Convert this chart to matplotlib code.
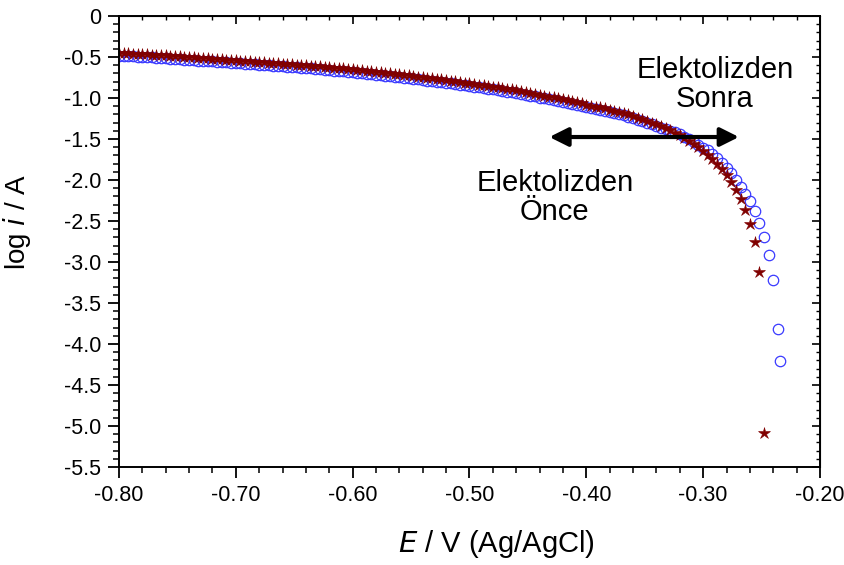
import matplotlib
matplotlib.use("Agg")
import matplotlib.pyplot as plt
from matplotlib.ticker import MultipleLocator, FuncFormatter

plt.rcParams['font.family'] = ['Liberation Sans', 'DejaVu Sans']

# potential (V vs Ag/AgCl)
E_sonra = [
    -0.800, -0.796, -0.792, -0.788, -0.784, -0.780, -0.776, -0.772, -0.768, -0.764,
    -0.760, -0.756, -0.752, -0.748, -0.744, -0.740, -0.736, -0.732, -0.728, -0.724,
    -0.720, -0.716, -0.712, -0.708, -0.704, -0.700, -0.696, -0.692, -0.688, -0.684,
    -0.680, -0.676, -0.672, -0.668, -0.664, -0.660, -0.656, -0.652, -0.648, -0.644,
    -0.640, -0.636, -0.632, -0.628, -0.624, -0.620, -0.616, -0.612, -0.608, -0.604,
    -0.600, -0.596, -0.592, -0.588, -0.584, -0.580, -0.576, -0.572, -0.568, -0.564,
    -0.560, -0.556, -0.552, -0.548, -0.544, -0.540, -0.536, -0.532, -0.528, -0.524,
    -0.520, -0.516, -0.512, -0.508, -0.504, -0.500, -0.496, -0.492, -0.488, -0.484,
    -0.480, -0.476, -0.472, -0.468, -0.464, -0.460, -0.456, -0.452, -0.448, -0.444,
    -0.440, -0.436, -0.432, -0.428, -0.424, -0.420, -0.416, -0.412, -0.408, -0.404,
    -0.400, -0.396, -0.392, -0.388, -0.384, -0.380, -0.376, -0.372, -0.368, -0.364,
    -0.360, -0.356, -0.352, -0.348, -0.344, -0.340, -0.336, -0.332, -0.328, -0.324,
    -0.320, -0.316, -0.312, -0.308, -0.304, -0.300, -0.296, -0.292, -0.288, -0.284,
    -0.280, -0.276, -0.272, -0.268, -0.264, -0.260, -0.256, -0.252, -0.248,
]
logi_sonra = [
    -0.450, -0.453, -0.456, -0.459, -0.462, -0.465, -0.468, -0.471, -0.474, -0.477,
    -0.480, -0.484, -0.488, -0.492, -0.496, -0.500, -0.504, -0.508, -0.512, -0.516,
    -0.520, -0.524, -0.528, -0.532, -0.536, -0.540, -0.544, -0.548, -0.552, -0.556,
    -0.560, -0.564, -0.568, -0.572, -0.576, -0.580, -0.584, -0.588, -0.592, -0.596,
    -0.600, -0.605, -0.610, -0.615, -0.620, -0.625, -0.630, -0.635, -0.640, -0.645,
    -0.650, -0.656, -0.662, -0.668, -0.674, -0.680, -0.686, -0.692, -0.698, -0.704,
    -0.710, -0.717, -0.724, -0.731, -0.738, -0.745, -0.752, -0.759, -0.766, -0.773,
    -0.780, -0.788, -0.796, -0.804, -0.812, -0.820, -0.828, -0.836, -0.844, -0.852,
    -0.860, -0.869, -0.878, -0.887, -0.896, -0.906, -0.916, -0.926, -0.936, -0.946,
    -0.960, -0.971, -0.982, -0.993, -1.004, -1.016, -1.028, -1.040, -1.052, -1.066,
    -1.080, -1.092, -1.104, -1.116, -1.128, -1.141, -1.154, -1.167, -1.180, -1.195,
    -1.220, -1.240, -1.260, -1.280, -1.300, -1.320, -1.345, -1.370, -1.395, -1.425,
    -1.455, -1.490, -1.525, -1.560, -1.600, -1.645, -1.690, -1.740, -1.800, -1.870,
    -1.940, -2.020, -2.120, -2.230, -2.370, -2.540, -2.760, -3.120, -5.080,
]

E_once = [
    -0.800, -0.796, -0.792, -0.788, -0.784, -0.780, -0.776, -0.772, -0.768, -0.764,
    -0.760, -0.756, -0.752, -0.748, -0.744, -0.740, -0.736, -0.732, -0.728, -0.724,
    -0.720, -0.716, -0.712, -0.708, -0.704, -0.700, -0.696, -0.692, -0.688, -0.684,
    -0.680, -0.676, -0.672, -0.668, -0.664, -0.660, -0.656, -0.652, -0.648, -0.644,
    -0.640, -0.636, -0.632, -0.628, -0.624, -0.620, -0.616, -0.612, -0.608, -0.604,
    -0.600, -0.596, -0.592, -0.588, -0.584, -0.580, -0.576, -0.572, -0.568, -0.564,
    -0.560, -0.556, -0.552, -0.548, -0.544, -0.540, -0.536, -0.532, -0.528, -0.524,
    -0.520, -0.516, -0.512, -0.508, -0.504, -0.500, -0.496, -0.492, -0.488, -0.484,
    -0.480, -0.476, -0.472, -0.468, -0.464, -0.460, -0.456, -0.452, -0.448, -0.444,
    -0.440, -0.436, -0.432, -0.428, -0.424, -0.420, -0.416, -0.412, -0.408, -0.404,
    -0.400, -0.396, -0.392, -0.388, -0.384, -0.380, -0.376, -0.372, -0.368, -0.364,
    -0.360, -0.356, -0.352, -0.348, -0.344, -0.340, -0.336, -0.332, -0.328, -0.324,
    -0.320, -0.316, -0.312, -0.308, -0.304, -0.300, -0.296, -0.292, -0.288, -0.284,
    -0.280, -0.276, -0.272, -0.268, -0.264, -0.260, -0.256, -0.252, -0.248, -0.244,
    -0.240, -0.236, -0.2345,
]
logi_once = [
    -0.485, -0.488, -0.491, -0.494, -0.497, -0.500, -0.503, -0.506, -0.509, -0.512,
    -0.515, -0.519, -0.523, -0.527, -0.531, -0.535, -0.539, -0.543, -0.547, -0.551,
    -0.555, -0.559, -0.563, -0.567, -0.571, -0.575, -0.579, -0.583, -0.587, -0.591,
    -0.595, -0.599, -0.603, -0.607, -0.611, -0.615, -0.619, -0.623, -0.627, -0.631,
    -0.635, -0.640, -0.645, -0.650, -0.655, -0.660, -0.665, -0.670, -0.675, -0.680,
    -0.685, -0.691, -0.697, -0.703, -0.709, -0.715, -0.721, -0.727, -0.733, -0.739,
    -0.745, -0.752, -0.759, -0.766, -0.773, -0.780, -0.787, -0.794, -0.801, -0.808,
    -0.815, -0.823, -0.831, -0.839, -0.847, -0.855, -0.863, -0.871, -0.879, -0.887,
    -0.895, -0.904, -0.913, -0.922, -0.931, -0.941, -0.951, -0.961, -0.971, -0.981,
    -0.995, -1.006, -1.017, -1.028, -1.039, -1.051, -1.063, -1.075, -1.087, -1.100,
    -1.113, -1.125, -1.137, -1.149, -1.161, -1.173, -1.186, -1.199, -1.212, -1.228,
    -1.245, -1.265, -1.285, -1.300, -1.320, -1.340, -1.360, -1.380, -1.400, -1.420,
    -1.440, -1.470, -1.500, -1.535, -1.570, -1.605, -1.640, -1.680, -1.730, -1.790,
    -1.850, -1.920, -2.000, -2.090, -2.170, -2.260, -2.380, -2.530, -2.690, -2.910,
    -3.220, -3.820, -4.210,
]

x_ticks = [-0.80, -0.70, -0.60, -0.50, -0.40, -0.30, -0.20]
y_ticks = [0, -0.5, -1.0, -1.5, -2.0, -2.5, -3.0, -3.5, -4.0, -4.5, -5.0, -5.5]

fig = plt.figure(figsize=(8.45, 5.65), dpi=100)
ax = fig.add_axes([0.1408, 0.1735, 0.8296, 0.7982])

ax.plot(E_once, logi_once, linestyle='none', marker='o', markersize=7.5,
        markerfacecolor='none', markeredgecolor='#3a3aff', markeredgewidth=0.9)
ax.plot(E_sonra, logi_sonra, linestyle='none', marker='*', markersize=9,
        color='#800000', markeredgewidth=0.4)

ax.set_xlim(-0.80, -0.20)
ax.set_ylim(-5.5, 0)
ax.set_xticks(x_ticks)
ax.set_yticks(y_ticks)
ax.xaxis.set_minor_locator(MultipleLocator(0.02))
ax.yaxis.set_minor_locator(MultipleLocator(0.1))
ax.xaxis.set_major_formatter(FuncFormatter(lambda v, p: f"{v:.2f}"))
ax.yaxis.set_major_formatter(FuncFormatter(lambda v, p: "0" if abs(v) < 1e-9 else f"{v:.1f}"))

ax.tick_params(which='major', direction='out', length=8, width=1.3, labelsize=15.5, pad=5)
ax.tick_params(which='minor', direction='out', length=4, width=1.1)
for s in ax.spines.values():
    s.set_linewidth(1.4)

# inward ticks on top and right
top = ax.secondary_xaxis('top')
top.set_xticks(x_ticks)
top.xaxis.set_minor_locator(MultipleLocator(0.02))
top.tick_params(which='major', direction='in', length=6, width=1.2, labeltop=False)
top.tick_params(which='minor', direction='in', length=3, width=1.0)
right = ax.secondary_yaxis('right')
right.set_yticks(y_ticks)
right.yaxis.set_minor_locator(MultipleLocator(0.1))
right.tick_params(which='major', direction='in', length=6, width=1.2, labelright=False)
right.tick_params(which='minor', direction='in', length=3, width=1.0)

ax.set_xlabel(r"$\it{E}$ / V (Ag/AgCl)", fontsize=21)
ax.set_ylabel(r"log $\it{i}$ / A", fontsize=20)
ax.xaxis.set_label_coords(0.539, -0.135)
ax.yaxis.set_label_coords(-0.123, 0.543)

ax.annotate('', xy=(-0.267, -1.476), xytext=(-0.434, -1.476),
            arrowprops=dict(arrowstyle='<|-|>', color='black', lw=3, mutation_scale=28))
ax.text(-0.290, -0.84, "Elektolizden\nSonra", ha='center', va='center', fontsize=21,
        linespacing=1.05)
ax.text(-0.427, -2.21, "Elektolizden\nÖnce", ha='center', va='center', fontsize=21,
        linespacing=1.05)

fig.savefig("out.png", dpi=100)
